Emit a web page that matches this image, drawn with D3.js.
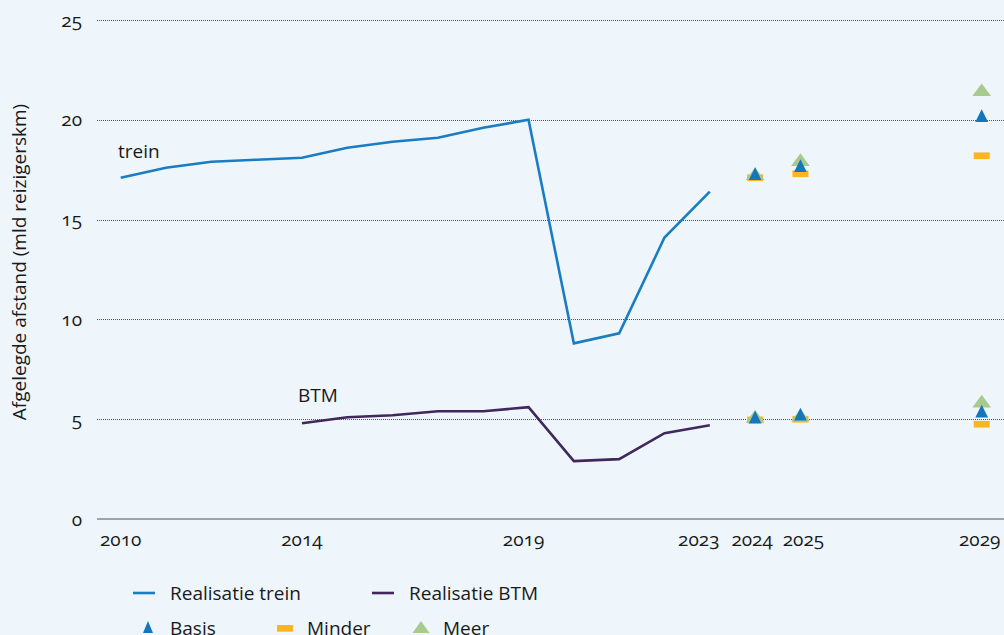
<!DOCTYPE html>
<html>
<head>
<meta charset="utf-8">
<script src="https://cdn.jsdelivr.net/npm/d3@7"></script>
<style>
  html, body { margin: 0; padding: 0; background: #eef6fc; }
  svg { display: block; font-family: "Open Sans", sans-serif; }
  text { fill: #1a1a1a; font-variant-numeric: oldstyle-nums; }
</style>
</head>
<body>
<div id="chart"></div>
<script>
const WIDTH = 1004;
const HEIGHT = 635;

// Realisatie
const treinYears = [2010, 2011, 2012, 2013, 2014, 2015, 2016, 2017, 2018, 2019, 2020, 2021, 2022, 2023];
const treinValues = [17.1, 17.6, 17.9, 18.0, 18.1, 18.6, 18.9, 19.1, 19.6, 20.0, 8.8, 9.3, 14.1, 16.4];
const btmYears = [2014, 2015, 2016, 2017, 2018, 2019, 2020, 2021, 2022, 2023];
const btmValues = [4.8, 5.1, 5.2, 5.4, 5.4, 5.6, 2.9, 3.0, 4.3, 4.7];

// Ramingen
const scenarioYears = [2024, 2025, 2029];
const basisTrein = [17.2, 17.6, 20.1];
const minderTrein = [17.1, 17.3, 18.2];
const meerTrein = [17.2, 17.9, 21.4];
const basisBtm = [5.0, 5.15, 5.3];
const minderBtm = [4.97, 5.0, 4.75];
const meerBtm = [5.05, 5.1, 5.8];

const xTicks = [2010, 2014, 2019, 2023, 2024, 2025, 2029];
const yTicks = [0, 5, 10, 15, 20, 25];

const COLORS = {
  trein: '#1a7dc2',
  btm: '#42275a',
  basis: '#1476bd',
  minder: '#fbb521',
  meer: '#a7ca8f',
};

const FONT = '19px';
// small label nudges so the crowded year labels don't touch
const tickNudge = { 2019: -5, 2023: -11, 2024: -3, 2025: 3, 2029: -2 };

const svg = d3.select('#chart').append('svg')
  .attr('width', WIDTH)
  .attr('height', HEIGHT);

const x = d3.scaleLinear().domain([2010, 2029]).range([120.7, 981.7]);
const y = d3.scaleLinear().domain([0, 25]).range([519, 20]);

// Gridlines
svg.append('g')
  .selectAll('line')
  .data(yTicks.filter((d) => d > 0))
  .join('line')
  .attr('x1', 97)
  .attr('x2', WIDTH)
  .attr('y1', (d) => Math.round(y(d)) + 0.5)
  .attr('y2', (d) => Math.round(y(d)) + 0.5)
  .attr('stroke', '#555')
  .attr('stroke-width', 1)
  .attr('stroke-dasharray', '1,1');

// baseline
svg.append('line')
  .attr('x1', 97)
  .attr('x2', WIDTH)
  .attr('y1', y(0))
  .attr('y2', y(0))
  .attr('stroke', '#a3a3a3')
  .attr('stroke-width', 2);

// Y tick labels
svg.append('g')
  .selectAll('text')
  .data(yTicks)
  .join('text')
  .attr('x', 82)
  .attr('y', (d) => y(d))
  .attr('dy', '0.35em')
  .attr('text-anchor', 'end')
  .attr('font-size', FONT)
  .text((d) => d);

// X tick labels
svg.append('g')
  .selectAll('text')
  .data(xTicks)
  .join('text')
  .attr('x', (d) => x(d) + (tickNudge[d] || 0))
  .attr('y', 546)
  .attr('text-anchor', 'middle')
  .attr('font-size', FONT)
  .text((d) => d);

// Y axis title
svg.append('text')
  .attr('transform', `translate(26,${262}) rotate(-90)`)
  .attr('text-anchor', 'middle')
  .attr('font-size', FONT)
  .text('Afgelegde afstand (mld reizigerskm)');

// Lines
const line = d3.line()
  .x((d) => x(d[0]))
  .y((d) => y(d[1]));

svg.append('path')
  .datum(d3.zip(treinYears, treinValues))
  .attr('fill', 'none')
  .attr('stroke', COLORS.trein)
  .attr('stroke-width', 2.6)
  .attr('d', line);

svg.append('path')
  .datum(d3.zip(btmYears, btmValues))
  .attr('fill', 'none')
  .attr('stroke', COLORS.btm)
  .attr('stroke-width', 2.6)
  .attr('d', line);

// Series labels
svg.append('text')
  .attr('x', 118)
  .attr('y', 158)
  .attr('font-size', FONT)
  .text('trein');

svg.append('text')
  .attr('x', 298)
  .attr('y', 402)
  .attr('font-size', FONT)
  .text('BTM');

// Markers
function triangle(w, h) {
  return `M0,${-h * 2 / 3}L${w / 2},${h / 3}L${-w / 2},${h / 3}Z`;
}
const basisPath = triangle(12.7, 12.7);
const meerPath = triangle(18.7, 12.7);

function drawScenario(values, kind) {
  const g = svg.append('g');
  const pts = d3.zip(scenarioYears, values);
  if (kind === 'minder') {
    g.selectAll('rect')
      .data(pts)
      .join('rect')
      .attr('x', (d) => x(d[0]) - 8)
      .attr('y', (d) => y(d[1]) - 3.3)
      .attr('width', 16)
      .attr('height', 6.7)
      .attr('fill', COLORS.minder);
  } else {
    g.selectAll('path')
      .data(pts)
      .join('path')
      .attr('transform', (d) => `translate(${x(d[0])},${y(d[1])})`)
      .attr('d', kind === 'meer' ? meerPath : basisPath)
      .attr('fill', COLORS[kind]);
  }
}

drawScenario(minderTrein, 'minder');
drawScenario(meerTrein, 'meer');
drawScenario(basisTrein, 'basis');
drawScenario(minderBtm, 'minder');
drawScenario(meerBtm, 'meer');
drawScenario(basisBtm, 'basis');

// Legend
const legend = svg.append('g').attr('font-size', FONT);

const lineItems = [
  { label: 'Realisatie trein', color: COLORS.trein, x: 133 },
  { label: 'Realisatie BTM', color: COLORS.btm, x: 372 },
];
lineItems.forEach((item) => {
  legend.append('line')
    .attr('x1', item.x)
    .attr('x2', item.x + 22)
    .attr('y1', 593)
    .attr('y2', 593)
    .attr('stroke', item.color)
    .attr('stroke-width', 2.6);
  legend.append('text')
    .attr('x', item.x + 37)
    .attr('y', 593)
    .attr('dy', '0.35em')
    .text(item.label);
});

const markerItems = [
  { label: 'Basis', kind: 'basis', x: 148, tx: 170 },
  { label: 'Minder', kind: 'minder', x: 285, tx: 307 },
  { label: 'Meer', kind: 'meer', x: 421, tx: 443 },
];
markerItems.forEach((item) => {
  if (item.kind === 'minder') {
    legend.append('rect')
      .attr('x', item.x - 8)
      .attr('y', 625)
      .attr('width', 16)
      .attr('height', 6.7)
      .attr('fill', COLORS.minder);
  } else {
    legend.append('path')
      .attr('transform', `translate(${item.x},${629})`)
      .attr('d', item.kind === 'meer' ? triangle(17, 12) : triangle(10, 12))
      .attr('fill', COLORS[item.kind]);
  }
  legend.append('text')
    .attr('x', item.tx)
    .attr('y', 628)
    .attr('dy', '0.35em')
    .text(item.label);
});
</script>
</body>
</html>
